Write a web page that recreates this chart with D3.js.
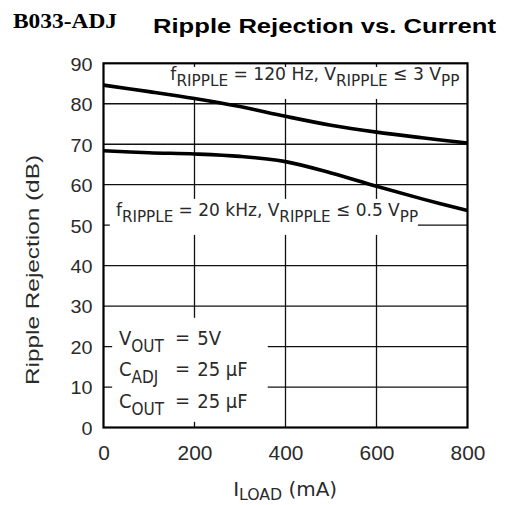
<!DOCTYPE html>
<html>
<head>
<meta charset="utf-8">
<script src="https://cdn.jsdelivr.net/npm/d3@7"></script>
<style>
  html, body { margin: 0; padding: 0; background: #fff; }
  svg { display: block; }
</style>
</head>
<body>
<svg id="chart" width="505" height="505"></svg>
<script>
// ---- data ----
const currents = [0, 100, 200, 300, 400, 500, 600, 700, 800];           // I_LOAD (mA)
const rr120Hz  = [84.6, 83.0, 81.3, 79.3, 76.9, 74.7, 73.0, 71.6, 70.3]; // dB
const rr20kHz  = [68.4, 67.9, 67.6, 67.0, 65.7, 62.9, 59.6, 56.5, 53.6]; // dB
const xTicks = [0, 200, 400, 600, 800];
const yTicks = [0, 10, 20, 30, 40, 50, 60, 70, 80, 90];
const xGrid = [200, 400, 600];
const yGrid = [10, 20, 30, 40, 50, 60, 70, 80];

const svg = d3.select("#chart");
const W = 505, H = 505;
const m = { left: 103.5, right: 37.5, top: 63.3, bottom: 77.5 };

const x = d3.scaleLinear().domain([0, 800]).range([m.left, W - m.right]);
const y = d3.scaleLinear().domain([0, 90]).range([H - m.bottom, m.top]);

const FONT = "'Liberation Sans', Arial, Helvetica, sans-serif";
const NFONT = "'Liberation Sans Narrow', 'DejaVu Sans Condensed', 'Liberation Sans', sans-serif";
const INK = "#2a2a2a";

// grid
const grid = svg.append("g");
grid.selectAll("line.v").data(xGrid).join("line")
  .attr("x1", d => x(d)).attr("x2", d => x(d))
  .attr("y1", y(0)).attr("y2", y(90))
  .attr("stroke", "#111").attr("stroke-width", 1.3);
grid.selectAll("line.h").data(yGrid).join("line")
  .attr("x1", x(0)).attr("x2", x(800))
  .attr("y1", d => y(d)).attr("y2", d => y(d))
  .attr("stroke", "#111").attr("stroke-width", 1.3);

// white masks behind annotation texts (in data units)
const masks = [
  { x0: 124, x1: 792, y0: 81.2, y1: 89.1 },
  { x0: 14,  x1: 691, y0: 47.6, y1: 56.5 },
  { x0: 19,  x1: 361, y0: 1.4,  y1: 27.1 }
];
svg.append("g").selectAll("rect").data(masks).join("rect")
  .attr("x", d => x(d.x0)).attr("width", d => x(d.x1) - x(d.x0))
  .attr("y", d => y(d.y1)).attr("height", d => y(d.y0) - y(d.y1))
  .attr("fill", "#fff");

// curves
svg.append("clipPath").attr("id", "plotclip").append("rect")
  .attr("x", x(0)).attr("y", y(90)).attr("width", x(800) - x(0)).attr("height", y(0) - y(90));
const line = d3.line().x((d, i) => x(currents[i])).y(d => y(d)).curve(d3.curveCatmullRom.alpha(0.5));
const curves = svg.append("g").attr("clip-path", "url(#plotclip)");
[rr120Hz, rr20kHz].forEach(s => {
  curves.append("path").attr("d", line(s))
    .attr("fill", "none").attr("stroke", "#000").attr("stroke-width", 3.6);
});

// frame
svg.append("rect")
  .attr("x", x(0)).attr("y", y(90))
  .attr("width", x(800) - x(0)).attr("height", y(0) - y(90))
  .attr("fill", "none").attr("stroke", "#000").attr("stroke-width", 2.2);

// axes tick labels
const xAxis = d3.axisBottom(x).tickValues(xTicks).tickSize(0).tickPadding(0);
const gx = svg.append("g").attr("transform", `translate(0,${y(0)})`).call(xAxis);
gx.select(".domain").remove();
gx.selectAll("text")
  .attr("y", 32).attr("dy", 0)
  .attr("font-family", FONT).attr("font-size", 20).attr("fill", INK)
  .attr("textLength", d => String(d).length * 11.6)
  .attr("lengthAdjust", "spacingAndGlyphs");

const yAxis = d3.axisLeft(y).tickValues(yTicks).tickSize(0).tickPadding(0);
const gy = svg.append("g").attr("transform", `translate(${x(0) - 11},0)`).call(yAxis);
gy.select(".domain").remove();
gy.selectAll("text")
  .attr("x", 0).attr("dy", "0.36em")
  .attr("font-family", FONT).attr("font-size", 19).attr("fill", INK)
  .attr("textLength", d => String(d).length * 11)
  .attr("lengthAdjust", "spacingAndGlyphs");

// helper for text with subscripts: parts = [[text, isSub], ...]
function richText(parent, px, py, parts, size, subSize, len, anchor, subDrop) {
  const drop = subDrop || size * 0.34;
  const t = parent.append("text")
    .attr("x", px).attr("y", py)
    .attr("font-family", NFONT).attr("font-size", size).attr("fill", INK)
    .attr("text-anchor", anchor || "start");
  let sub = false;
  parts.forEach(([s, isSub]) => {
    const ts = t.append("tspan").text(s);
    if (isSub && !sub) { ts.attr("dy", drop).attr("font-size", subSize); sub = true; }
    else if (!isSub && sub) { ts.attr("dy", -drop); sub = false; }
    else if (isSub) ts.attr("font-size", subSize);
  });
  if (len) t.attr("textLength", len).attr("lengthAdjust", "spacingAndGlyphs");
  return t;
}

const ann = svg.append("g");
// top annotation
richText(ann, x(147), y(85.8), [["f", 0], ["RIPPLE", 1], [" = 120 Hz,  V", 0], ["RIPPLE", 1], ["  \u2264  3 V", 0], ["PP", 1]], 18, 16, 289);
// lower annotation
richText(ann, x(27.5), y(52.3), [["f", 0], ["RIPPLE", 1], [" = 20 kHz,  V", 0], ["RIPPLE", 1], ["  \u2264  0.5 V", 0], ["PP", 1]], 18, 16, 302);

// conditions box
const conds = [
  { lhs: [["V", 0], ["OUT", 1]], rhs: "5V" },
  { lhs: [["C", 0], ["ADJ", 1]], rhs: "25 \u03BCF" },
  { lhs: [["C", 0], ["OUT", 1]], rhs: "25 \u03BCF" }
];
const condY = [20.3, 12.7, 4.8];
conds.forEach((c, i) => {
  richText(ann, x(34), y(condY[i]), c.lhs, 20, 17, null);
  ann.append("text").attr("x", x(157)).attr("y", y(condY[i]) - 1)
    .attr("font-family", NFONT).attr("font-size", 20).attr("fill", INK).text("=");
  ann.append("text").attr("x", x(206)).attr("y", y(condY[i]))
    .attr("font-family", NFONT).attr("font-size", 20).attr("fill", INK).text(c.rhs);
});

// axis titles
svg.append("text")
  .attr("transform", `translate(39,270) rotate(-90)`)
  .attr("text-anchor", "middle")
  .attr("font-family", FONT).attr("font-size", 18).attr("fill", INK)
  .attr("textLength", 230).attr("lengthAdjust", "spacingAndGlyphs")
  .text("Ripple Rejection  (dB)");

richText(svg, x(285), 496, [["I", 0], ["LOAD", 1], ["  (mA)", 0]], 19, 15, 104, "start", 4);

// titles
svg.append("text").attr("x", 13).attr("y", 28)
  .attr("font-family", "'Liberation Serif', 'Times New Roman', serif")
  .attr("font-weight", "bold").attr("font-size", 22).attr("fill", "#000")
  .attr("textLength", 104).attr("lengthAdjust", "spacingAndGlyphs")
  .text("B033-ADJ");
svg.append("text").attr("x", 153).attr("y", 33)
  .attr("font-family", FONT).attr("font-weight", "bold").attr("font-size", 20).attr("fill", "#000")
  .attr("textLength", 343).attr("lengthAdjust", "spacingAndGlyphs")
  .text("Ripple Rejection vs. Current");
</script>
</body>
</html>
